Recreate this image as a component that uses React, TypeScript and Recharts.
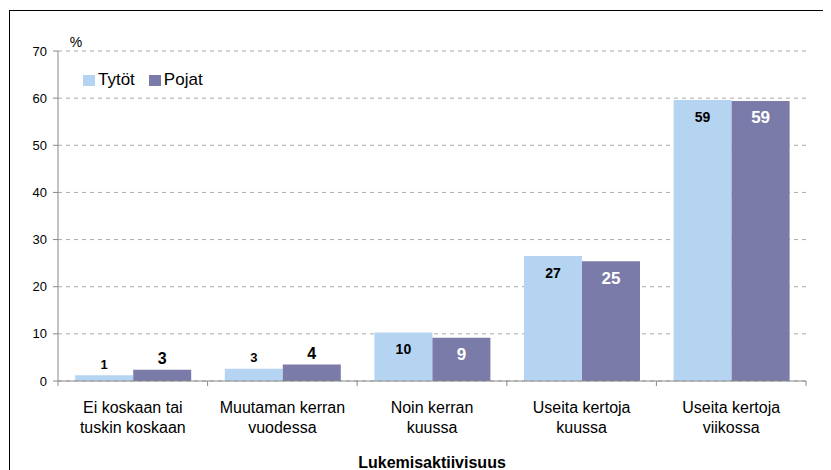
import { BarChart, Bar, XAxis, YAxis, CartesianGrid, Legend, LabelList } from "recharts";

const categories = [
  "Ei koskaan tai\ntuskin koskaan",
  "Muutaman kerran\nvuodessa",
  "Noin kerran\nkuussa",
  "Useita kertoja\nkuussa",
  "Useita kertoja\nviikossa",
];
const tytot = [1.2, 2.6, 10.3, 26.5, 59.6];
const pojat = [2.4, 3.5, 9.2, 25.4, 59.4];
const tytotLabels = [1, 3, 10, 27, 59];
const pojatLabels = [3, 4, 9, 25, 59];
const yTicks = [0, 10, 20, 30, 40, 50, 60, 70];
const seriesNames = ["Tytöt", "Pojat"];
const seriesColors = ["#B4D4F1", "#7B7BA9"];

const data = categories.map((name, i) => ({
  name,
  Tytöt: tytot[i],
  Pojat: pojat[i],
  tLabel: tytotLabels[i],
  pLabel: pojatLabels[i],
}));

const FONT = "'Liberation Sans', Arial, sans-serif";
const AXIS = "#888888";

function CategoryTick(props: any) {
  const { x, y, payload, width } = props;
  const lines = String(payload.value).split("\n");
  const half = payload.offset ?? width / categories.length / 2;
  return (
    <g>
      <line x1={x - half} x2={x - half} y1={y - 8} y2={y - 3} stroke={AXIS} />
      {payload.index === categories.length - 1 && (
        <line x1={x + half} x2={x + half} y1={y - 8} y2={y - 3} stroke={AXIS} />
      )}
      {lines.map((l, i) => (
        <text key={i} x={x} y={y + 24 + i * 20} textAnchor="middle" fontSize={16} fill="#000" fontFamily={FONT}>
          {l}
        </text>
      ))}
    </g>
  );
}

function makeLabel(size: number, insideColor: string) {
  return (props: any) => {
    const { x, y, width, height, value } = props;
    const inside = height > 30;
    return (
      <text
        x={x + width / 2}
        y={inside ? y + 17 : y - 11}
        textAnchor="middle"
        dominantBaseline="central"
        fontSize={inside ? size + 1 : size}
        fontWeight="bold"
        fontFamily={FONT}
        fill={inside ? insideColor : "#000"}
      >
        {value}
      </text>
    );
  };
}

function LegendBox() {
  return (
    <div style={{ display: "flex", alignItems: "center", fontSize: 17, fontFamily: FONT, color: "#000" }}>
      {seriesNames.map((n, i) => (
        <div key={n} style={{ display: "flex", alignItems: "center", marginRight: 14 }}>
          <span style={{ width: 12, height: 11, background: seriesColors[i], marginRight: 3, display: "inline-block" }} />
          <span>{n}</span>
        </div>
      ))}
    </div>
  );
}

export default function App() {
  return (
    <div style={{ position: "relative", width: 831, height: 462, fontFamily: FONT }}>
      <div
        style={{
          position: "absolute",
          left: 1,
          top: 2,
          width: 850,
          height: 480,
          border: "1px solid #000",
          boxSizing: "border-box",
        }}
      />
      <BarChart
        width={831}
        height={462}
        data={data}
        margin={{ top: 43, right: 33, left: 20, bottom: 0 }}
        barCategoryGap="11.5%"
        barGap={0}
      >
        <CartesianGrid vertical={false} stroke="#aaaaaa" strokeDasharray="4 4" />
        <XAxis
          dataKey="name"
          height={89}
          axisLine={{ stroke: AXIS }}
          tickLine={false}
          tick={<CategoryTick />}
          interval={0}
          label={{
            content: (p: any) => (
              <text
                x={p.viewBox.x + p.viewBox.width / 2}
                y={p.viewBox.y + 81}
                textAnchor="middle"
                dominantBaseline="central"
                fontSize={16}
                fontWeight="bold"
                fontFamily={FONT}
                fill="#000"
              >
                Lukemisaktiivisuus
              </text>
            ),
          }}
        />
        <YAxis
          width={30}
          domain={[0, 70]}
          ticks={yTicks}
          interval={0}
          axisLine={{ stroke: AXIS }}
          tickLine={{ stroke: AXIS }}
          tickSize={5}
          tickMargin={6}
          tick={{ fontSize: 13, fill: "#000", fontFamily: FONT }}
          label={{
            content: (p: any) => (
              <text
                x={p.viewBox.x + p.viewBox.width + 18}
                y={p.viewBox.y - 4}
                textAnchor="middle"
                fontSize={14}
                fontFamily={FONT}
                fill="#000"
              >
                %
              </text>
            ),
          }}
        />
        <YAxis yAxisId="right" orientation="right" width={0} tick={false} tickLine={false} axisLine={{ stroke: AXIS }} />
        <Legend
          verticalAlign="middle"
          align="center"
          layout="horizontal"
          content={<LegendBox />}
          wrapperStyle={{ top: 62, left: 75, width: "auto" }}
        />
        <Bar dataKey="Tytöt" fill={seriesColors[0]} isAnimationActive={false}>
          <LabelList dataKey="tLabel" content={makeLabel(13, "#000")} />
        </Bar>
        <Bar dataKey="Pojat" fill={seriesColors[1]} isAnimationActive={false}>
          <LabelList dataKey="pLabel" content={makeLabel(16, "#fff")} />
        </Bar>
      </BarChart>
    </div>
  );
}
